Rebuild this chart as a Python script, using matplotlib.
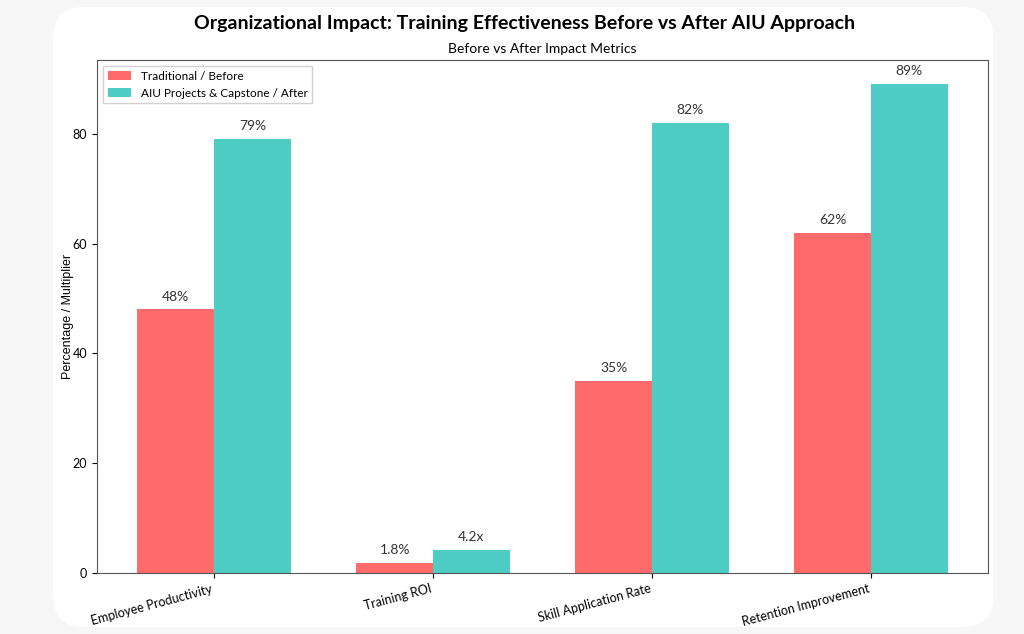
import matplotlib.pyplot as plt
import numpy as np
from matplotlib.patches import FancyBboxPatch

categories = ["Employee Productivity", "Training ROI", "Skill Application Rate", "Retention Improvement"]
before = [48, 1.8, 35, 62]
after = [79, 4.2, 82, 89]
before_labels = ["48%", "1.8%", "35%", "62%"]
after_labels = ["79%", "4.2x", "82%", "89%"]

plt.rcParams['font.family'] = ['Lato', 'DejaVu Sans']

fig = plt.figure(figsize=(10.24, 6.34), dpi=100)
fig.patch.set_facecolor('#f7f7f7')
card = FancyBboxPatch((0.052, 0.011), 0.918, 0.978, boxstyle="round,pad=0,rounding_size=0.03",
                      transform=fig.transFigure, facecolor='white', edgecolor='none', zorder=-10,
                      mutation_aspect=1024 / 634)
fig.patches.append(card)

ax = fig.add_axes([0.0947, 0.0962, 0.8703, 0.8092])
ax.set_zorder(1)
x = np.arange(len(categories))
w = 0.35
b1 = ax.bar(x - w / 2, before, w, color='#FF6B6B', label='Traditional / Before')
b2 = ax.bar(x + w / 2, after, w, color='#4ECDC4', label='AIU Projects & Capstone / After')

for bars, labs in ((b1, before_labels), (b2, after_labels)):
    for b, t in zip(bars, labs):
        ax.annotate(t, (b.get_x() + b.get_width() / 2, b.get_height()), xytext=(0, 5),
                    textcoords='offset points', ha='center', va='bottom', fontsize=10, color='#333333')

ax.set_xticks(x)
ax.set_xticklabels(categories, rotation=15, ha='right', fontsize=9)
ax.set_ylim(0, 93.45)
ax.tick_params(axis='y', labelsize=9)
ax.set_ylabel('Percentage / Multiplier', fontsize=9, labelpad=-1,
              family=['Liberation Sans', 'DejaVu Sans'])
for s in ax.spines.values():
    s.set_color('#555555')
ax.legend(loc='upper left', fontsize=8.5, fancybox=False, framealpha=0.9, edgecolor='#cccccc')
ax.set_title('Before vs After Impact Metrics', fontsize=10, pad=5)
fig.text(0.512, 0.963, 'Organizational Impact: Training Effectiveness Before vs After AIU Approach',
         ha='center', va='center', fontsize=14, fontweight='bold')

fig.savefig('out.png', dpi=100, facecolor=fig.get_facecolor())
